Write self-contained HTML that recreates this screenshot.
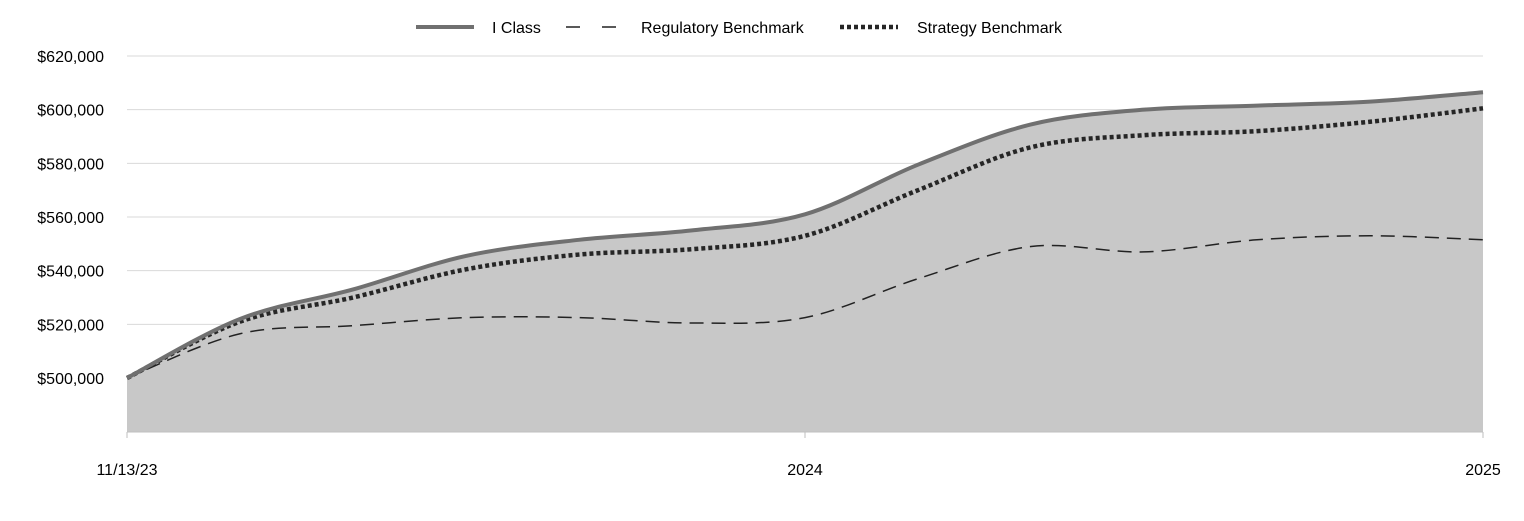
<!DOCTYPE html>
<html><head><meta charset="utf-8"><style>
body{margin:0;background:#fff;font-family:"Liberation Sans",Arial,sans-serif;}
svg text{font-family:"Liberation Sans",Arial,sans-serif;font-size:16px;fill:#000;}
</style></head><body>
<svg id="chart" width="1524" height="516"></svg>
<script>
const categoryIndex=[0,1,2,3,4,5,6,7,8,9,10,11,12];
const iClass=[500000,522000,533000,545500,551500,555000,561000,579500,594500,600000,601500,603000,606500];
const regulatory=[500000,516500,519500,522500,522500,520500,522500,537000,549000,547000,551500,553000,551500];
const strategy=[500000,521000,530000,540500,546000,548000,553000,570000,586000,590500,592000,595500,600500];
const yTicks=[500000,520000,540000,560000,580000,600000,620000];
const xLabels=["11/13/23","2024","2025"];
const xLabelPos=[0,6,12];

const NS="http://www.w3.org/2000/svg";
const svg=document.getElementById('chart');
const X0=127,X1=1483,n=categoryIndex.length-1;
const x=i=>X0+(X1-X0)*i/n;
const y=v=>378-(v-500000)*(322/120000);
function mk(t,a,p){const e=document.createElementNS(NS,t);for(const k in a)e.setAttribute(k,a[k]);(p||svg).appendChild(e);return e;}
function smooth(vals){
  const p=vals.map((v,i)=>[x(categoryIndex[i]),y(v)]);
  let d=`M${p[0][0]},${p[0][1]}`;
  for(let i=0;i<p.length-1;i++){
    const a=p[Math.max(i-1,0)],b=p[i],c=p[i+1],e=p[Math.min(i+2,p.length-1)];
    const c1=[b[0]+(c[0]-a[0])/6,b[1]+(c[1]-a[1])/6],c2=[c[0]-(e[0]-b[0])/6,c[1]-(e[1]-b[1])/6];
    d+=` C${c1[0]},${c1[1]} ${c2[0]},${c2[1]} ${c[0]},${c[1]}`;
  }
  return d;
}
// grid
yTicks.forEach(v=>{
  const g=mk('line',{x1:X0,x2:X1,y1:y(v),y2:y(v),stroke:'#d9d9d9','stroke-width':1});
  
  
  const t=mk('text',{x:104,y:y(v)+6,'text-anchor':'end'});t.textContent='$'+v.toLocaleString('en-US');
  
  
});
// area
const area=mk('path',{d:smooth(iClass)+` L${X1},432 L${X0},432 Z`,fill:'#c8c8c8'});


mk('line',{x1:X0,x2:X1,y1:432,y2:432,stroke:'#bfbfbf'});
xLabelPos.forEach((p,i)=>{
  mk('line',{x1:x(p),x2:x(p),y1:432,y2:438,stroke:'#bfbfbf'});
  const t=mk('text',{x:x(p),y:475,'text-anchor':'middle'});t.textContent=xLabels[i];
  
  
});
const l1=mk('path',{d:smooth(regulatory),fill:'none',stroke:'#222','stroke-width':1.5,'stroke-dasharray':'14,8'});


const l2=mk('path',{d:smooth(strategy),fill:'none',stroke:'#262626','stroke-width':4.5,'stroke-dasharray':'4,3'});


const l3=mk('path',{d:smooth(iClass),fill:'none',stroke:'#707070','stroke-width':4});


// legend
const lg=mk('g',{});


mk('line',{x1:416,x2:474,y1:27,y2:27,stroke:'#707070','stroke-width':4},lg);
let t=mk('text',{x:492,y:33},lg);t.textContent='I Class';
mk('line',{x1:566,x2:624,y1:27,y2:27,stroke:'#222','stroke-width':1.5,'stroke-dasharray':'14,22'},lg);
t=mk('text',{x:641,y:33},lg);t.textContent='Regulatory Benchmark';
mk('line',{x1:840,x2:898,y1:27,y2:27,stroke:'#262626','stroke-width':4.5,'stroke-dasharray':'4,3'},lg);
t=mk('text',{x:917,y:33},lg);t.textContent='Strategy Benchmark';
</script>
</body></html>
